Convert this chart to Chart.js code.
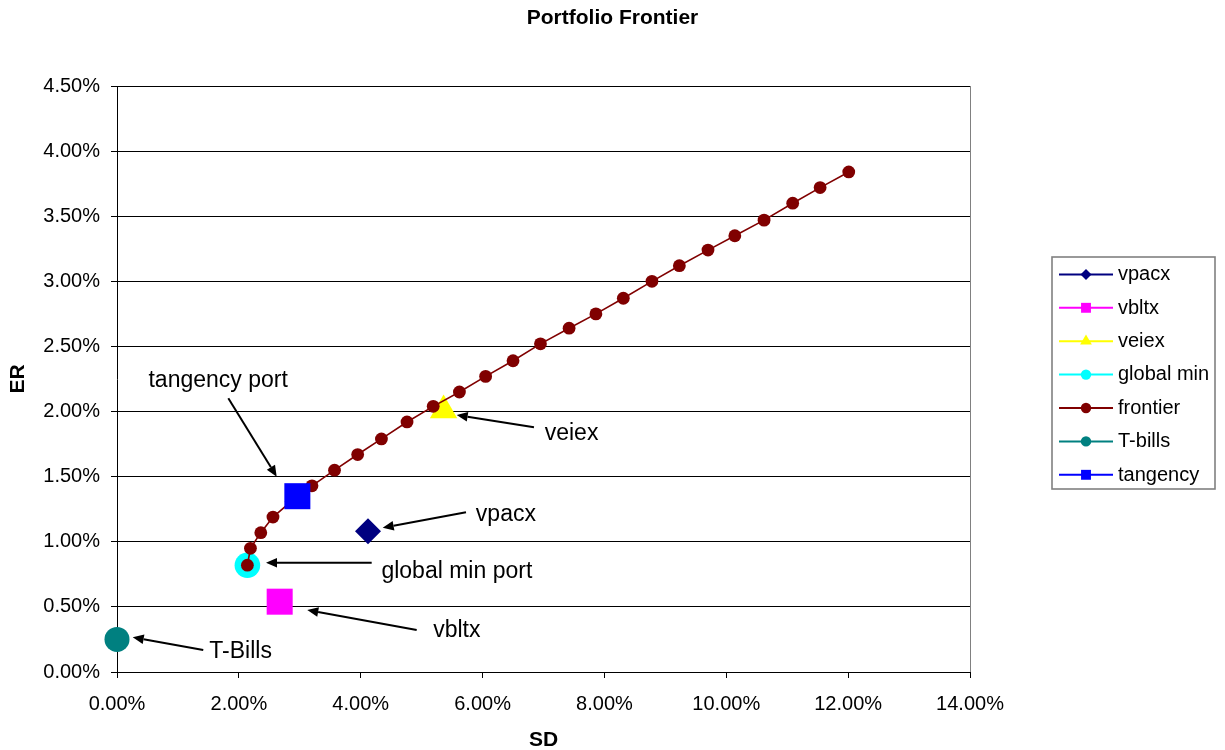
<!DOCTYPE html>
<html>
<head>
<meta charset="utf-8">
<title>Portfolio Frontier</title>
<script src="https://cdn.jsdelivr.net/npm/chart.js@4/dist/chart.umd.min.js"></script>
<style>
  html, body { margin: 0; padding: 0; background: #ffffff; }
  #wrap { width: 1225px; height: 750px; position: relative; }
</style>
</head>
<body>
<div id="wrap"><canvas id="chart"></canvas></div>
<script>
// Portfolio frontier: standard deviation (SD, %) against expected return (ER, %)

const chartTitle = 'Portfolio Frontier';
const xAxisTitle = 'SD';
const yAxisTitle = 'ER';

// Individual funds and special portfolios (SD %, ER %)
const vpacxSD = [4.12];      const vpacxER = [1.08];
const vbltxSD = [2.67];      const vbltxER = [0.54];
const veiexSD = [5.36];      const veiexER = [2.01];
const globalMinSD = [2.14];  const globalMinER = [0.82];
const tbillsSD = [0.00];     const tbillsER = [0.25];
const tangencySD = [2.96];   const tangencyER = [1.35];

// Efficient frontier portfolios
const frontierSD = [2.14, 2.19, 2.36, 2.56, 2.86, 3.20, 3.57, 3.95, 4.34, 4.76, 5.19, 5.62, 6.05,
                    6.50, 6.95, 7.42, 7.86, 8.31, 8.78, 9.23, 9.70, 10.14, 10.62, 11.09, 11.54, 12.01];
const frontierER = [0.82, 0.95, 1.07, 1.19, 1.31, 1.43, 1.55, 1.67, 1.79, 1.92, 2.04, 2.15, 2.27,
                    2.39, 2.52, 2.64, 2.75, 2.87, 3.00, 3.12, 3.24, 3.35, 3.47, 3.60, 3.72, 3.84];

// Axis ranges (percent)
const xRange = [0, 14], xStep = 2;
const yRange = [0, 4.5], yStep = 0.5;
const pctLabel = v => Number(v).toFixed(2) + '%';

// Callout labels with arrows, anchored in data units: [SD, ER]
const callouts = [
  { text: 'tangency port',   at: [1.66, 2.186], align: 'center', tail: [1.827, 2.102], tip: [2.621, 1.500] },
  { text: 'veiex',           at: [7.02, 1.782], align: 'left',   tail: [6.844, 1.879], tip: [5.575, 1.974] },
  { text: 'vpacx',           at: [5.89, 1.159], align: 'left',   tail: [5.728, 1.226], tip: [4.361, 1.108] },
  { text: 'global min port', at: [4.34, 0.723], align: 'left',   tail: [4.180, 0.839], tip: [2.445, 0.839] },
  { text: 'vbltx',           at: [5.19, 0.271], align: 'left',   tail: [4.919, 0.323], tip: [3.123, 0.476] },
  { text: 'T-Bills',         at: [1.515, 0.105], align: 'left',  tail: [1.416, 0.169], tip: [0.258, 0.266] }
];

const FONT = "'Liberation Sans', Arial, Helvetica, sans-serif";

const pts = (xs, ys) => xs.map((x, i) => ({ x: x, y: ys[i] }));

function marker(label, xs, ys, color, style, radius, order, legendStyle, legendRadius) {
  return {
    label: label,
    data: pts(xs, ys),
    showLine: false,
    pointStyle: style,
    pointRadius: radius,
    pointHoverRadius: radius,
    pointBackgroundColor: color,
    pointBorderColor: color,
    pointBorderWidth: 0,
    backgroundColor: color,
    borderColor: color,
    clip: false,
    order: order,
    legendStyle: legendStyle,
    legendRadius: legendRadius
  };
}

const datasets = [
  marker('vpacx', vpacxSD, vpacxER, '#000080', 'rectRot', 13, 7, 'rectRot', 5.5),
  marker('vbltx', vbltxSD, vbltxER, '#FF00FF', 'rect', 18.4, 6, 'rect', 7),
  marker('veiex', veiexSD, veiexER, '#FFFF00', 'triangle', 15.8, 5, 'triangle', 6.8),
  marker('global min', globalMinSD, globalMinER, '#00FFFF', 'circle', 12.8, 4, 'circle', 5.2),
  Object.assign(marker('frontier', frontierSD, frontierER, '#800000', 'circle', 6.4, 3, 'circle', 5.2), {
    showLine: true, borderWidth: 1.6, tension: 0
  }),
  marker('T-bills', tbillsSD, tbillsER, '#008080', 'circle', 12.5, 2, 'circle', 5.2),
  marker('tangency', tangencySD, tangencyER, '#0000FF', 'rect', 18.4, 1, 'rect', 7)
];

// Simple marker shapes for the legend keys
function drawKey(ctx, style, x, y, r, color) {
  ctx.save();
  ctx.fillStyle = color;
  ctx.beginPath();
  if (style === 'rectRot') {
    ctx.moveTo(x - r, y); ctx.lineTo(x, y - r); ctx.lineTo(x + r, y); ctx.lineTo(x, y + r);
  } else if (style === 'rect') {
    const h = r * Math.SQRT1_2;
    ctx.rect(x - h, y - h, 2 * h, 2 * h);
  } else if (style === 'triangle') {
    for (let k = 0; k < 3; k++) {
      const a = k * 2 * Math.PI / 3;
      const px = x + Math.sin(a) * r, py = y - Math.cos(a) * r;
      if (k === 0) ctx.moveTo(px, py); else ctx.lineTo(px, py);
    }
  } else {
    ctx.arc(x, y, r, 0, Math.PI * 2);
  }
  ctx.closePath();
  ctx.fill();
  ctx.restore();
}

// Right edge of the plot frame
const plotFrame = {
  id: 'plotFrame',
  beforeDatasetsDraw(chart) {
    const { ctx, chartArea: a } = chart;
    ctx.save();
    ctx.strokeStyle = '#808080';
    ctx.lineWidth = 1;
    ctx.beginPath();
    ctx.moveTo(Math.round(a.right) + 0.5, a.top);
    ctx.lineTo(Math.round(a.right) + 0.5, a.bottom);
    ctx.stroke();
    ctx.restore();
  }
};

// Arrows pointing at the labelled portfolios
const calloutPlugin = {
  id: 'callouts',
  afterDatasetsDraw(chart) {
    const { ctx, scales: { x, y } } = chart;
    ctx.save();
    ctx.strokeStyle = '#000';
    ctx.fillStyle = '#000';
    ctx.lineWidth = 2;
    callouts.forEach(c => {
      const tx = x.getPixelForValue(c.tail[0]), ty = y.getPixelForValue(c.tail[1]);
      const hx = x.getPixelForValue(c.tip[0]), hy = y.getPixelForValue(c.tip[1]);
      const ang = Math.atan2(hy - ty, hx - tx);
      const len = 11, half = 4.8;
      const bx = hx - Math.cos(ang) * len, by = hy - Math.sin(ang) * len;
      ctx.beginPath();
      ctx.moveTo(tx, ty);
      ctx.lineTo(bx, by);
      ctx.stroke();
      ctx.beginPath();
      ctx.moveTo(hx, hy);
      ctx.lineTo(bx + Math.sin(ang) * half, by - Math.cos(ang) * half);
      ctx.lineTo(bx - Math.sin(ang) * half, by + Math.cos(ang) * half);
      ctx.closePath();
      ctx.fill();
      ctx.font = '23px ' + FONT;
      ctx.textAlign = c.align;
      ctx.textBaseline = 'alphabetic';
      ctx.fillText(c.text, x.getPixelForValue(c.at[0]), y.getPixelForValue(c.at[1]));
    });
    ctx.restore();
  }
};

// Framed legend with line-and-marker keys, plus the chart heading
const legendBox = { left: 1052, top: 257, width: 163, height: 232, rowHeight: 33.4, firstBaseline: 280.2 };

const sideLegend = {
  id: 'sideLegend',
  afterDraw(chart) {
    const { ctx } = chart;
    ctx.save();
    // heading
    ctx.fillStyle = '#000';
    ctx.font = 'bold 21px ' + FONT;
    ctx.textAlign = 'center';
    ctx.textBaseline = 'alphabetic';
    ctx.fillText(chartTitle, chart.width / 2, 24);

    // legend frame
    ctx.strokeStyle = '#808080';
    ctx.lineWidth = 1.6;
    ctx.strokeRect(legendBox.left, legendBox.top, legendBox.width, legendBox.height);

    chart.data.datasets.forEach((ds, i) => {
      const base = legendBox.firstBaseline + i * legendBox.rowHeight;
      const cy = base - 5.8;
      ctx.strokeStyle = ds.borderColor;
      ctx.lineWidth = 2;
      ctx.beginPath();
      ctx.moveTo(legendBox.left + 7, cy);
      ctx.lineTo(legendBox.left + 61, cy);
      ctx.stroke();
      drawKey(ctx, ds.legendStyle, legendBox.left + 34, cy, ds.legendRadius, ds.pointBackgroundColor);
      ctx.fillStyle = '#000';
      ctx.font = '20px ' + FONT;
      ctx.textAlign = 'left';
      ctx.fillText(ds.label, legendBox.left + 66, base);
    });
    ctx.restore();
  }
};

new Chart(document.getElementById('chart'), {
  type: 'scatter',
  data: { datasets: datasets },
  options: {
    animation: false,
    responsive: true,
    maintainAspectRatio: false,
    events: [],
    layout: { padding: { left: 0, right: 255, top: 86, bottom: 0 } },
    plugins: {
      legend: { display: false },
      tooltip: { enabled: false },
      title: { display: false }
    },
    scales: {
      x: {
        type: 'linear',
        min: xRange[0], max: xRange[1],
        afterFit(scale) { scale.height = 78; },
        ticks: {
          stepSize: xStep, callback: pctLabel, color: '#000',
          font: { size: 20, family: FONT }, padding: 14, maxRotation: 0, autoSkip: false
        },
        grid: { drawOnChartArea: false, drawTicks: true, tickLength: 6, color: '#000', lineWidth: 1 },
        border: { display: true, color: '#000', width: 1 },
        title: {
          display: true, text: xAxisTitle, color: '#000',
          font: { size: 21, weight: 'bold', family: FONT, lineHeight: 1 },
          padding: { top: 0, bottom: -1 }
        }
      },
      y: {
        type: 'linear',
        min: yRange[0], max: yRange[1],
        afterFit(scale) { scale.width = 117; },
        ticks: {
          stepSize: yStep, callback: pctLabel, color: '#000',
          font: { size: 20, family: FONT }, padding: 11, autoSkip: false
        },
        grid: { drawOnChartArea: true, drawTicks: true, tickLength: 6, color: '#000', lineWidth: 1 },
        border: { display: true, color: '#000', width: 1 },
        title: {
          display: true, text: yAxisTitle, color: '#000',
          font: { size: 21, weight: 'bold', family: FONT, lineHeight: 1 },
          padding: { top: 8, bottom: 0 }
        }
      }
    }
  },
  plugins: [plotFrame, calloutPlugin, sideLegend]
});
</script>
</body>
</html>
